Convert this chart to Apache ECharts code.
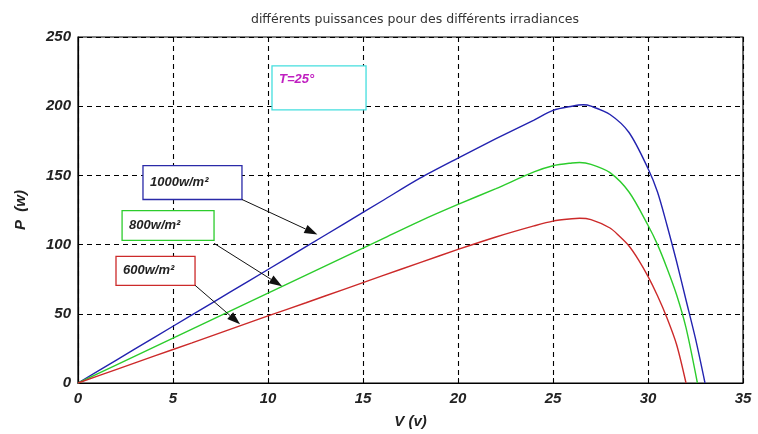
<!DOCTYPE html>
<html><head><meta charset="utf-8">
<script src="https://cdn.jsdelivr.net/npm/echarts@6/dist/echarts.min.js"></script>
<style>html,body{margin:0;padding:0;background:#fff}#c{width:758px;height:434px}</style>
</head><body><div id="c"></div>
<script>
var titleText = 'différents puissances pour des différents irradiances';
var xName = 'V (v)';
var yName = 'P  (w)';
var seriesNames = ['1000w/m²', '800w/m²', '600w/m²'];

var V1000 = [0, 2, 4, 6, 8, 10, 12, 14, 16, 18, 20, 22, 24, 25, 26, 26.6, 27, 28, 29, 30, 30.5, 31, 31.5, 32, 32.5, 33];
var P1000 = [0, 16.4, 32.8, 49.2, 65.6, 82, 98.5, 115, 131.5, 148, 162.5, 176.5, 190, 197, 200, 201, 200, 194, 181, 155, 138, 114, 88, 60, 32, 0];

var V800 = [0, 2, 4, 6, 8, 10, 12, 14, 16, 18, 20, 22, 24, 25, 26, 26.4, 27, 28, 29, 30, 30.5, 31, 31.5, 32, 32.6];
var P800 = [0, 13, 26, 39, 52, 65, 78, 91, 104, 117, 129, 140.5, 152.5, 157, 159, 159.3, 158, 152, 138, 114, 100, 83, 64, 40, 0];

var V600 = [0, 2, 4, 6, 8, 10, 12, 14, 16, 18, 20, 22, 24, 25, 26, 26.4, 27, 28, 28.5, 29, 29.5, 30, 30.5, 31, 31.5, 32];
var P600 = [0, 9.7, 19.4, 29, 38.8, 48.5, 58, 67.7, 77.4, 87, 96.5, 105.5, 113.5, 117, 118.7, 119, 118, 112, 106, 99, 89, 77, 63, 47, 28, 0];

var tempLabel = 'T=25°';

function pairs(xs, ys) { return xs.map(function (x, i) { return [x, ys[i]]; }); }

var colors = ['#2323b0', '#2ccc2c', '#cc2a2a'];
var fontFam = '"Liberation Sans", Arial, sans-serif';

var chart = echarts.init(document.getElementById('c'));
var option = {
  animation: false,
  backgroundColor: '#fff',
  title: {
    text: titleText, left: 410, top: 8, textAlign: 'center',
    textStyle: { fontSize: 12.5, fontWeight: 'normal', color: '#333', fontFamily: '"DejaVu Sans", sans-serif' }
  },
  grid: { left: 78, right: 15, top: 37, bottom: 50, show: true, borderColor: '#000', borderWidth: 1.2 },
  xAxis: {
    type: 'value', min: 0, max: 35, interval: 5,
    name: xName, nameLocation: 'middle', nameGap: 31,
    nameTextStyle: { fontSize: 15, fontWeight: 'bold', fontStyle: 'italic', color: '#222', fontFamily: fontFam },
    axisLine: { show: true, lineStyle: { color: '#000', width: 1.2 } },
    axisTick: { show: true, inside: true, length: 5, lineStyle: { color: '#000' } },
    axisLabel: { margin: 8, fontSize: 15, fontWeight: 'bold', fontStyle: 'italic', color: '#222', fontFamily: fontFam },
    splitLine: { show: true, lineStyle: { color: '#000', type: [5, 4], width: 1.1 } }
  },
  yAxis: {
    type: 'value', min: 0, max: 250, interval: 50,
    name: yName, nameLocation: 'middle', nameGap: 50, nameRotate: 90,
    nameTextStyle: { fontSize: 15, fontWeight: 'bold', fontStyle: 'italic', color: '#222', fontFamily: fontFam },
    axisLine: { show: true, lineStyle: { color: '#000', width: 1.2 } },
    axisTick: { show: true, inside: true, length: 5, lineStyle: { color: '#000' } },
    axisLabel: { margin: 7, fontSize: 15, fontWeight: 'bold', fontStyle: 'italic', color: '#222', fontFamily: fontFam },
    splitLine: { show: true, lineStyle: { color: '#000', type: [5, 4], width: 1.1 } }
  },
  series: [
    { name: seriesNames[0], type: 'line', data: pairs(V1000, P1000) },
    { name: seriesNames[1], type: 'line', data: pairs(V800, P800) },
    { name: seriesNames[2], type: 'line', data: pairs(V600, P600) }
  ].map(function (s, i) {
    s.smooth = 0.3; s.showSymbol = false; s.symbol = 'none';
    s.lineStyle = { color: colors[i], width: 1.4 }; s.itemStyle = { color: colors[i] };
    return s;
  })
};
chart.setOption(option);

// annotation layout in data coordinates (V, P)
var boxes = [
  { text: seriesNames[0], x0: 3.42, y0: 157.1, x1: 8.63, y1: 132.6, color: '#2a2aa8', textColor: '#222', ax0: 8.63, ay0: 132.6, ax1: 12.6, ay1: 107.3 },
  { text: seriesNames[1], x0: 2.32, y0: 124.6, x1: 7.16, y1: 103.0, color: '#2ccc2c', textColor: '#222', ax0: 7.16, ay0: 100.9, ax1: 10.74, ay1: 69.9 },
  { text: seriesNames[2], x0: 2.0, y0: 91.5, x1: 6.16, y1: 70.6, color: '#cc2a2a', textColor: '#222', ax0: 6.16, ay0: 70.6, ax1: 8.53, ay1: 42.5 },
  { text: tempLabel, x0: 10.21, y0: 229.1, x1: 15.16, y1: 197.4, color: '#44dede', textColor: '#c020c0', textTop: true }
];

function px(v, p) { return chart.convertToPixel({ gridIndex: 0 }, [v, p]); }

var graphics = [];
boxes.forEach(function (b) {
  var a = px(b.x0, b.y0), c = px(b.x1, b.y1);
  graphics.push({
    type: 'rect', silent: true, z: 50,
    shape: { x: a[0], y: a[1], width: c[0] - a[0], height: c[1] - a[1] },
    style: { fill: '#fff', stroke: b.color, lineWidth: 1.3 }
  });
  graphics.push({
    type: 'text', silent: true, z: 51,
    x: a[0] + 7, y: b.textTop ? a[1] + 7 : (a[1] + c[1]) / 2,
    style: {
      text: b.text, fill: b.textColor, font: 'italic bold 13px ' + fontFam,
      verticalAlign: b.textTop ? 'top' : 'middle', textAlign: 'left'
    }
  });
  if (b.ax0 !== undefined) {
    var s = px(b.ax0, b.ay0), e = px(b.ax1, b.ay1);
    var dx = e[0] - s[0], dy = e[1] - s[1], L = Math.sqrt(dx * dx + dy * dy);
    var ux = dx / L, uy = dy / L, hl = 13, hw = 4.5;
    var bx = e[0] - ux * hl, by = e[1] - uy * hl;
    graphics.push({
      type: 'line', silent: true, z: 52,
      shape: { x1: s[0], y1: s[1], x2: bx, y2: by },
      style: { stroke: '#111', lineWidth: 1 }
    });
    graphics.push({
      type: 'polygon', silent: true, z: 52,
      shape: { points: [[e[0], e[1]], [bx - uy * hw, by + ux * hw], [bx + uy * hw, by - ux * hw]] },
      style: { fill: '#111' }
    });
  }
});
chart.setOption({ graphic: graphics });
</script></body></html>
